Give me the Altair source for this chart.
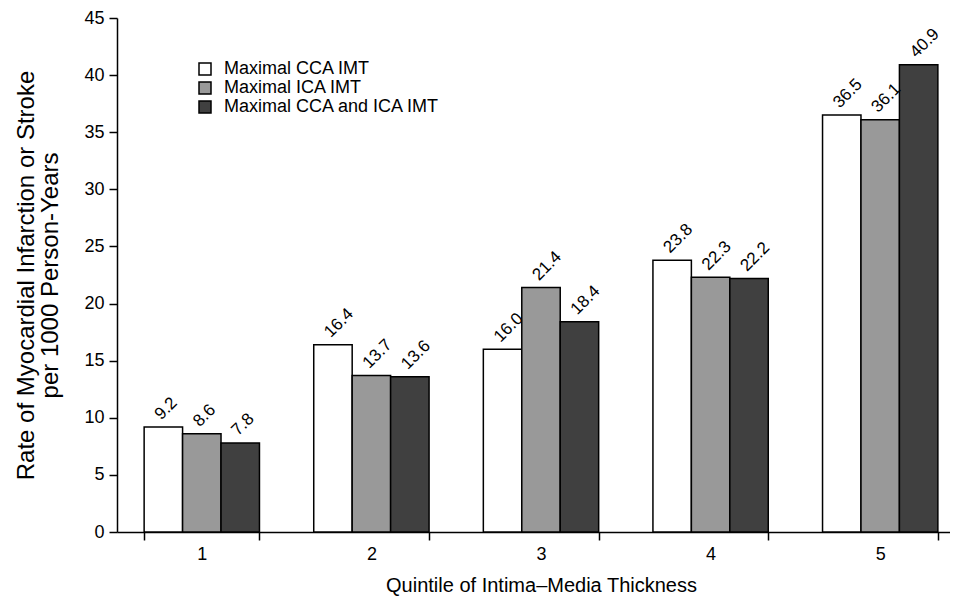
import altair as alt
import pandas as pd

quintiles = ["1", "2", "3", "4", "5"]
series = ["Maximal CCA IMT", "Maximal ICA IMT", "Maximal CCA and ICA IMT"]
cca = [9.2, 16.4, 16.0, 23.8, 36.5]
ica = [8.6, 13.7, 21.4, 22.3, 36.1]
both = [7.8, 13.6, 18.4, 22.2, 40.9]
colors = ["#ffffff", "#999999", "#404040"]
y_ticks = [0, 5, 10, 15, 20, 25, 30, 35, 40, 45]

rows = []
for s, vals in zip(series, [cca, ica, both]):
    for q, v in zip(quintiles, vals):
        rows.append({"quintile": q, "series": s, "value": v})
df = pd.DataFrame(rows)

FONT = "Liberation Sans"

x_enc = alt.X(
    "quintile:O",
    sort=quintiles,
    scale=alt.Scale(range=[0, 848], paddingInner=0.32, paddingOuter=0.16),
    axis=alt.Axis(
        title="Quintile of Intima\u2013Media Thickness",
        labelAngle=0,
        tickBand="extent",
        labelPadding=5,
        titlePadding=12,
        titleFontSize=20,
    ),
)
xoff = alt.XOffset("series:N", sort=series, scale=alt.Scale(paddingInner=0, paddingOuter=0))
y_enc = alt.Y(
    "value:Q",
    scale=alt.Scale(domain=[0, 45], nice=False),
    axis=alt.Axis(
        title=["Rate of Myocardial Infarction or Stroke", "per 1000 Person-Years"],
        values=y_ticks,
        grid=False,
        labelPadding=5,
        titlePadding=21,
        titleFontSize=24,
        titleLineHeight=24,
    ),
)

bars = alt.Chart(df).mark_bar(stroke="black", strokeWidth=1.5, opacity=1).encode(
    x=x_enc,
    xOffset=xoff,
    y=y_enc,
    fill=alt.Fill(
        "series:N",
        sort=series,
        scale=alt.Scale(domain=series, range=colors),
        legend=alt.Legend(
            title=None,
            orient="none",
            legendX=79,
            legendY=42,
            symbolType="square",
            symbolSize=144,
            symbolStrokeColor="black",
            symbolStrokeWidth=1.5,
            symbolOpacity=1,
            labelFontSize=18,
            labelFont=FONT,
            labelColor="black",
            labelOffset=10,
            labelLimit=0,
            rowPadding=1,
        ),
    ),
)

labels = alt.Chart(df).mark_text(
    angle=315, align="left", baseline="bottom", dx=3, dy=-2,
    fontSize=17, font=FONT, color="black",
).encode(
    x=alt.X("quintile:O", sort=quintiles),
    xOffset=alt.XOffset("series:N", sort=series),
    y=alt.Y("value:Q"),
    text=alt.Text("value:Q", format=".1f"),
)

chart = (
    alt.layer(bars, labels)
    .properties(
        width=833,
        height=514,
        autosize=alt.AutoSizeParams(type="none"),
        padding={"left": 109, "top": 10, "right": 0, "bottom": 70},
    )
    .configure_view(strokeWidth=0)
    .configure_axis(
        domainColor="black",
        domainWidth=1.5,
        tickColor="black",
        tickWidth=1.5,
        tickSize=8,
        labelColor="black",
        labelFontSize=18,
        labelFont=FONT,
        titleFont=FONT,
        titleFontWeight="normal",
        titleColor="black",
    )
)

chart.save("out.html", embed_options={"renderer": "svg", "actions": False})
